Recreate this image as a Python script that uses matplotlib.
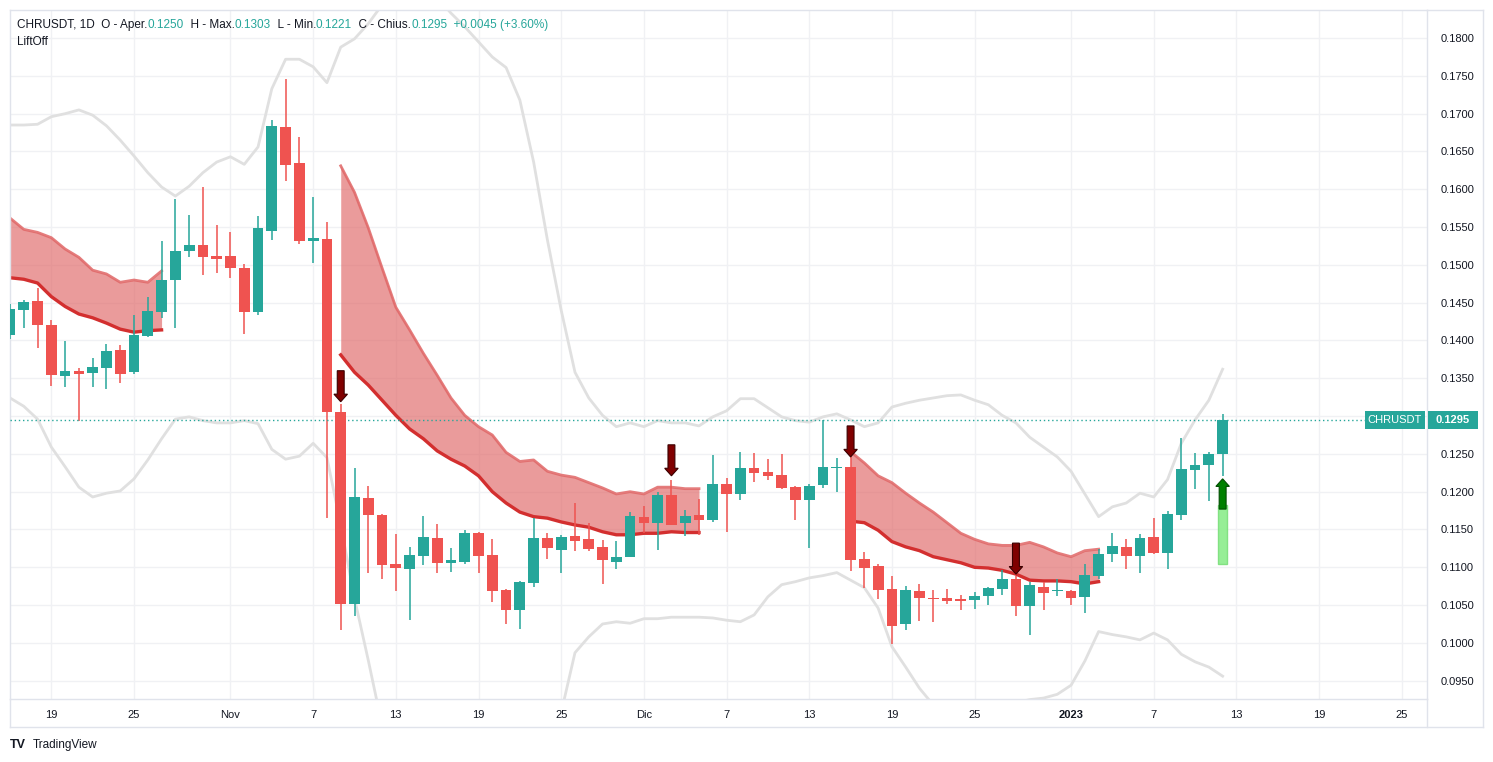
import numpy as np
import pandas as pd
import matplotlib
matplotlib.use("Agg")
import matplotlib.pyplot as plt
import matplotlib.dates as mdates
import matplotlib.transforms as mtransforms
from matplotlib.patches import FancyArrow, Rectangle
from matplotlib.lines import Line2D

plt.rcParams['font.family'] = ['Liberation Sans', 'DejaVu Sans']

up_color = '#26a69a'
down_color = '#ef5350'
band_color = '#e0e0e0'
cloud_fill = '#e06666'
cloud_top_color = '#e06666'
cloud_bottom_color = '#d32f2f'
text_color = '#131722'
grid_color = '#f0f1f4'
border_color = '#e0e3eb'

# daily candles, CHRUSDT 1D
dates = pd.date_range('2022-10-16', '2023-01-12', freq='D')
opens = [0.1407, 0.1440, 0.1452, 0.1420, 0.1353, 0.1359, 0.1357, 0.1364, 0.1387, 0.1358, 0.1406, 0.1438,
         0.1480, 0.1519, 0.1526, 0.1512,
         0.1512, 0.1496, 0.1438, 0.1545, 0.1682, 0.1635, 0.1532, 0.1534, 0.1305, 0.1052, 0.1192, 0.1169,
         0.1104, 0.1098, 0.1115, 0.1139, 0.1106, 0.1107, 0.1146, 0.1116, 0.1070, 0.1043, 0.1079, 0.1139,
         0.1123, 0.1141, 0.1137, 0.1127, 0.1107, 0.1114,
         0.1167, 0.1158, 0.1196, 0.1158, 0.1169, 0.1162, 0.1210, 0.1197, 0.1231, 0.1226, 0.1222, 0.1206,
         0.1189, 0.1209, 0.1231, 0.1233, 0.1111, 0.1102, 0.1071, 0.1025, 0.1069, 0.1060, 0.1060, 0.1058,
         0.1057, 0.1062, 0.1071, 0.1085, 0.1049, 0.1074, 0.1068,
         0.1069, 0.1061, 0.1088, 0.1117, 0.1127, 0.1115, 0.1140, 0.1119, 0.1169, 0.1229, 0.1235, 0.1250]
highs = [0.1448, 0.1454, 0.1469, 0.1427, 0.1399, 0.1363, 0.1377, 0.1395, 0.1394, 0.1434, 0.1457, 0.1532,
         0.1587, 0.1566, 0.1603, 0.1553,
         0.1544, 0.1501, 0.1565, 0.1692, 0.1746, 0.1669, 0.1590, 0.1557, 0.1316, 0.1231, 0.1207, 0.1170,
         0.1144, 0.1127, 0.1168, 0.1157, 0.1126, 0.1149, 0.1147, 0.1137, 0.1071, 0.1082, 0.1165, 0.1146,
         0.1143, 0.1185, 0.1158, 0.1136, 0.1135, 0.1173,
         0.1181, 0.1200, 0.1215, 0.1176, 0.1191, 0.1249, 0.1218, 0.1253, 0.1251, 0.1243, 0.1250, 0.1207,
         0.1210, 0.1295, 0.1244, 0.1248, 0.1120, 0.1104, 0.1089, 0.1075, 0.1078, 0.1070, 0.1071, 0.1064,
         0.1067, 0.1074, 0.1097, 0.1089, 0.1081, 0.1081, 0.1085,
         0.1070, 0.1105, 0.1124, 0.1145, 0.1137, 0.1144, 0.1165, 0.1174, 0.1271, 0.1251, 0.1252, 0.1303]
lows = [0.1402, 0.1417, 0.1390, 0.1340, 0.1339, 0.1293, 0.1339, 0.1336, 0.1344, 0.1356, 0.1405, 0.1430,
        0.1417, 0.1510, 0.1487, 0.1489,
        0.1483, 0.1409, 0.1434, 0.1533, 0.1611, 0.1528, 0.1503, 0.1165, 0.1017, 0.1035, 0.1093, 0.1084,
        0.1069, 0.1030, 0.1103, 0.1092, 0.1094, 0.1105, 0.1093, 0.1054, 0.1025, 0.1019, 0.1074, 0.1111,
        0.1093, 0.1121, 0.1122, 0.1078, 0.1098, 0.1113,
        0.1145, 0.1123, 0.1156, 0.1142, 0.1143, 0.1160, 0.1147, 0.1189, 0.1213, 0.1216, 0.1204, 0.1162,
        0.1126, 0.1205, 0.1200, 0.1095, 0.1072, 0.1058, 0.0999, 0.1017, 0.1029, 0.1027, 0.1052, 0.1044,
        0.1045, 0.1050, 0.1063, 0.1035, 0.1011, 0.1044, 0.1062,
        0.1050, 0.1039, 0.1085, 0.1107, 0.1098, 0.1093, 0.1118, 0.1098, 0.1162, 0.1203, 0.1188, 0.1221]
closes = [0.1441, 0.1451, 0.1420, 0.1355, 0.1360, 0.1356, 0.1365, 0.1386, 0.1356, 0.1407, 0.1439, 0.1480,
          0.1518, 0.1526, 0.1511, 0.1508,
          0.1496, 0.1438, 0.1549, 0.1684, 0.1632, 0.1532, 0.1536, 0.1305, 0.1052, 0.1193, 0.1169, 0.1103,
          0.1099, 0.1116, 0.1140, 0.1106, 0.1110, 0.1146, 0.1115, 0.1069, 0.1043, 0.1081, 0.1139, 0.1126,
          0.1140, 0.1135, 0.1124, 0.1109, 0.1114, 0.1168,
          0.1158, 0.1196, 0.1156, 0.1168, 0.1162, 0.1210, 0.1197, 0.1231, 0.1225, 0.1221, 0.1205, 0.1189,
          0.1207, 0.1233, 0.1233, 0.1110, 0.1099, 0.1070, 0.1023, 0.1070, 0.1060, 0.1058, 0.1056, 0.1056,
          0.1062, 0.1073, 0.1085, 0.1049, 0.1076, 0.1066, 0.1070,
          0.1060, 0.1090, 0.1118, 0.1128, 0.1115, 0.1139, 0.1119, 0.1170, 0.1230, 0.1235, 0.1250, 0.1295]

# bollinger-style envelope (gray lines)
upper_band = [0.1685, 0.1685, 0.1686, 0.1696, 0.1700, 0.1705, 0.1698, 0.1684, 0.1665, 0.1644, 0.1622, 0.1603,
              0.1591, 0.1604, 0.1622, 0.1636,
              0.1643, 0.1633, 0.1656, 0.1733, 0.1772, 0.1772, 0.1762, 0.1741, 0.1788, 0.1799, 0.1819, 0.1844,
              0.1854, 0.1861, 0.1861, 0.1854, 0.1833, 0.1815, 0.1795, 0.1775, 0.1761, 0.1718, 0.1636, 0.1533,
              0.1440, 0.1358, 0.1324, 0.1301, 0.1286, 0.1291,
              0.1286, 0.1294, 0.1291, 0.1291, 0.1287, 0.1299, 0.1307, 0.1323, 0.1323, 0.1311, 0.1299, 0.1294,
              0.1292, 0.1299, 0.1303, 0.1295, 0.1286, 0.1291, 0.1312, 0.1317, 0.1321, 0.1324, 0.1327, 0.1328,
              0.1321, 0.1315, 0.1301, 0.1291, 0.1272, 0.1259, 0.1246,
              0.1227, 0.1197, 0.1167, 0.1180, 0.1185, 0.1198, 0.1193, 0.1216, 0.1264, 0.1295, 0.1321, 0.1362]
lower_band = [0.1324, 0.1313, 0.1296, 0.1259, 0.1233, 0.1206, 0.1193, 0.1198, 0.1201, 0.1217, 0.1242, 0.1270,
              0.1296, 0.1299, 0.1294, 0.1291,
              0.1291, 0.1294, 0.1290, 0.1256, 0.1243, 0.1247, 0.1264, 0.1245, 0.1156, 0.1059, 0.0977, 0.0891,
              0.0838, 0.0806, 0.0792, 0.0792, 0.0799, 0.0812, 0.0825, 0.0838, 0.0845, 0.0851, 0.0865, 0.0884,
              0.0908, 0.0987, 0.1008, 0.1025, 0.1028, 0.1026,
              0.1032, 0.1032, 0.1034, 0.1034, 0.1034, 0.1033, 0.1030, 0.1028, 0.1037, 0.1061, 0.1077, 0.1081,
              0.1086, 0.1089, 0.1093, 0.1083, 0.1073, 0.1046, 0.0995, 0.0968, 0.0940, 0.0918, 0.0901, 0.0891,
              0.0895, 0.0905, 0.0914, 0.0921, 0.0925, 0.0927, 0.0932,
              0.0944, 0.0976, 0.1015, 0.1011, 0.1008, 0.1004, 0.1013, 0.1004, 0.0985, 0.0975, 0.0968, 0.0956]

# LiftOff cloud segments: (first day, top edge, bottom edge)
cloud_segments = [
    ('2022-10-16',
     [0.1562, 0.1547, 0.1543, 0.1536, 0.1521, 0.1510, 0.1493, 0.1488, 0.1477, 0.1480, 0.1477, 0.1492],
     [0.1483, 0.1481, 0.1476, 0.1458, 0.1445, 0.1435, 0.1430, 0.1423, 0.1415, 0.1411, 0.1413, 0.1414]),
    ('2022-11-09',
     [0.1631, 0.1596, 0.1549, 0.1496, 0.1444, 0.1414, 0.1383, 0.1354, 0.1324, 0.1301, 0.1286, 0.1275,
      0.1252, 0.1240, 0.1242, 0.1227, 0.1222, 0.1219, 0.1212, 0.1205, 0.1197, 0.1200, 0.1197, 0.1206,
      0.1206, 0.1204, 0.1204],
     [0.1381, 0.1358, 0.1341, 0.1321, 0.1301, 0.1283, 0.1270, 0.1254, 0.1243, 0.1234, 0.1221, 0.1200,
      0.1185, 0.1173, 0.1167, 0.1165, 0.1160, 0.1156, 0.1153, 0.1147, 0.1143, 0.1143, 0.1145, 0.1145,
      0.1147, 0.1146, 0.1146]),
    ('2022-12-16',
     [0.1253, 0.1238, 0.1221, 0.1212, 0.1198, 0.1185, 0.1173, 0.1159, 0.1145, 0.1137, 0.1131, 0.1129,
      0.1129, 0.1133, 0.1127, 0.1119, 0.1114, 0.1122, 0.1124],
     [0.1161, 0.1159, 0.1149, 0.1134, 0.1127, 0.1122, 0.1114, 0.1110, 0.1106, 0.1100, 0.1099, 0.1096,
      0.1091, 0.1083, 0.1082, 0.1082, 0.1081, 0.1078, 0.1081]),
]

# signals
sell_dates = ['2022-11-09', '2022-12-03', '2022-12-16', '2022-12-28']
sell_tips = [0.1319, 0.1221, 0.1246, 0.1091]
buy_date = '2023-01-12'
buy_tip = 0.1217
buy_bar_low = 0.1104
buy_bar_high = 0.1182

tick_dates = ['2022-10-19', '2022-10-25', '2022-11-01', '2022-11-07', '2022-11-13', '2022-11-19',
              '2022-11-25', '2022-12-01', '2022-12-07', '2022-12-13', '2022-12-19', '2022-12-25',
              '2023-01-01', '2023-01-07', '2023-01-13', '2023-01-19', '2023-01-25']
tick_labels = ['19', '25', 'Nov', '7', '13', '19', '25', 'Dic', '7', '13', '19', '25',
               '2023', '7', '13', '19', '25']
price_ticks = np.arange(0.0950, 0.18001, 0.0050)

W, H = 1493, 762
fig = plt.figure(figsize=(W / 100, H / 100), dpi=100)
ax = fig.add_axes([10 / W, 63 / H, 1417 / W, 689.5 / H])

x = mdates.date2num(dates)
o = np.array(opens)
c = np.array(closes)
up = c >= o
colors = np.where(up, up_color, down_color)

# envelope
ax.plot(x, upper_band, color=band_color, lw=2, zorder=1)
ax.plot(x, lower_band, color=band_color, lw=2, zorder=1)

# cloud
for start, top, bottom in cloud_segments:
    cx = mdates.date2num(pd.date_range(start, periods=len(top), freq='D'))
    ax.fill_between(cx, top, bottom, color=cloud_fill, alpha=0.65, lw=0, zorder=2)
    ax.plot(cx, top, color=cloud_top_color, lw=2, alpha=0.85, zorder=2)
    ax.plot(cx, bottom, color=cloud_bottom_color, lw=2.4, zorder=2)

# candles
ax.vlines(x, lows, highs, colors=colors, lw=1.1, zorder=3)
body = np.maximum(np.abs(c - o), 0.00013)
ax.bar(x, body, bottom=np.minimum(o, c), width=0.78, color=colors, zorder=4)

# sell arrows
for d, tip in zip(sell_dates, sell_tips):
    dx = mdates.date2num(pd.Timestamp(d))
    ax.add_patch(FancyArrow(dx, tip + 0.0041, 0, -0.0041, width=0.5, head_width=0.98,
                            head_length=0.0010, length_includes_head=True,
                            fc='#800000', ec='#3a0000', lw=0.8, zorder=6))

# buy signal
bx = mdates.date2num(pd.Timestamp(buy_date))
ax.bar(bx, buy_bar_high - buy_bar_low, bottom=buy_bar_low, width=0.68, color='#90ee90',
       edgecolor='#7fe07f', lw=1, alpha=0.95, zorder=5)
ax.add_patch(FancyArrow(bx, buy_tip - 0.0040, 0, 0.0040, width=0.5, head_width=0.98,
                        head_length=0.0010, length_includes_head=True,
                        fc='#008000', ec='#004d00', lw=0.8, zorder=6))

# last price line
last = closes[-1]
ax.axhline(last, color=up_color, lw=1, ls=(0, (1, 2)), zorder=3)

ax.set_xlim(mdates.date2num(dates[0]), mdates.date2num(dates[0]) + 1417 / 13.78)
ax.set_ylim(0.09258, 0.18378)

ax.set_xticks(mdates.date2num(pd.to_datetime(tick_dates)))
ax.set_xticklabels(tick_labels)
for lab in ax.get_xticklabels():
    if lab.get_text() == '2023':
        lab.set_fontweight('bold')
ax.set_yticks(price_ticks)
# the tick label under the last-price tag is hidden by the tag
ax.set_yticklabels(['' if abs(p - last) < 0.0012 else '%.4f' % p for p in price_ticks])
ax.yaxis.tick_right()
ax.tick_params(axis='y', length=0, pad=10, labelsize=8, labelcolor=text_color)
ax.tick_params(axis='x', length=0, pad=8, labelsize=8, labelcolor=text_color)
ax.grid(True, color=grid_color, lw=1, zorder=0)
ax.set_axisbelow(True)
for s in ax.spines.values():
    s.set_color(border_color)
    s.set_linewidth(1)

# outer frame of price / time scales
def fline(x0, y0, x1, y1):
    fig.add_artist(Line2D([x0 / W, x1 / W], [1 - y0 / H, 1 - y1 / H], color=border_color, lw=1))

fline(10, 727, 1483, 727)
fline(1483, 9.5, 1483, 727)
fline(1427, 9.5, 1483, 9.5)
fline(10, 699, 10, 727)
fline(1427, 699, 1427, 727)

# last price labels
blend = mtransforms.blended_transform_factory(ax.transAxes, ax.transData)
ax.add_patch(Rectangle((1355 / 1417, last - 0.00119), 60 / 1417, 0.00238, transform=blend,
                       fc=up_color, ec='none', clip_on=False, zorder=7))
ax.text(1385 / 1417, last, 'CHRUSDT', transform=blend, ha='center', va='center',
        color='white', fontsize=8, zorder=8)
ax.add_patch(Rectangle((1418 / 1417, last - 0.00119), 50 / 1417, 0.00238, transform=blend,
                       fc=up_color, ec='none', clip_on=False, zorder=7))
ax.text(1443 / 1417, last, '%.4f' % last, transform=blend, ha='center', va='center',
        color='white', fontsize=8, fontweight='bold', zorder=8, clip_on=False)

# header legend, pieces laid out on one baseline
chg = closes[-1] - closes[-2]
parts = [('CHRUSDT, 1D  O - Aper.', text_color), ('%.4f' % opens[-1], up_color),
         ('  H - Max.', text_color), ('%.4f' % highs[-1], up_color),
         ('  L - Min.', text_color), ('%.4f' % lows[-1], up_color),
         ('  C - Chius.', text_color), ('%.4f' % closes[-1], up_color),
         ('  %+.4f (%+.2f%%)' % (chg, chg / closes[-2] * 100), up_color)]
renderer = fig.canvas.get_renderer()
xpix = 17
for txt, col in parts:
    t = fig.text(xpix / W, 1 - 28 / H, txt, color=col, fontsize=8.5, va='baseline', ha='left', zorder=9)
    xpix += t.get_window_extent(renderer).width
fig.text(17 / W, 1 - 45 / H, 'LiftOff', color=text_color, fontsize=8.5, va='baseline', ha='left')

# branding
fig.text(10 / W, 1 - 745 / H, 'TV', fontsize=9, fontweight='bold', color=text_color, va='center')
fig.text(33 / W, 1 - 745 / H, 'TradingView', fontsize=8.5, color=text_color, va='center')

fig.savefig('out.png', dpi=100, facecolor='white')
